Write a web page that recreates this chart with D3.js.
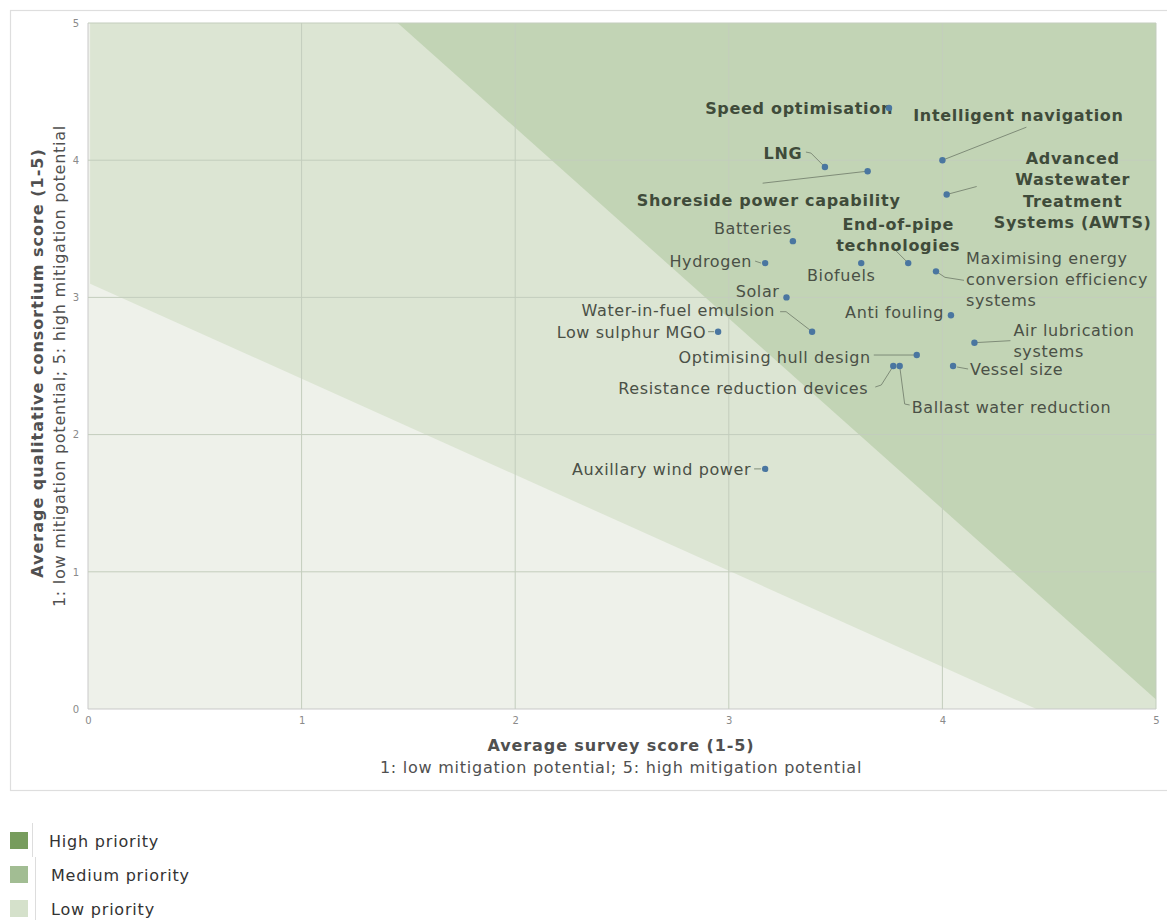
<!DOCTYPE html>
<html>
<head>
<meta charset="utf-8">
<script src="https://cdn.jsdelivr.net/npm/d3@7"></script>
<style>
  html, body { margin: 0; padding: 0; background: #fff; }
  svg { display: block; font-family: "DejaVu Sans", Verdana, sans-serif; }
</style>
</head>
<body>
<svg id="chart" width="1167" height="920"></svg>
<script>
// Measures and their scores: x = average survey score, y = average consortium score
const measures = [
  "Speed optimisation", "Intelligent navigation", "LNG", "Shoreside power capability",
  "Advanced Wastewater Treatment Systems (AWTS)", "Batteries", "Hydrogen", "Biofuels",
  "End-of-pipe technologies", "Maximising energy conversion efficiency systems", "Solar",
  "Water-in-fuel emulsion", "Low sulphur MGO", "Anti fouling", "Air lubrication systems",
  "Optimising hull design", "Resistance reduction devices", "Ballast water reduction",
  "Vessel size", "Auxillary wind power"
];
const surveyScores = [3.75, 4.00, 3.45, 3.65, 4.02, 3.30, 3.17, 3.62, 3.84, 3.97, 3.27,
                      3.39, 2.95, 4.04, 4.15, 3.88, 3.77, 3.80, 4.05, 3.17];
const consortiumScores = [4.38, 4.00, 3.95, 3.92, 3.75, 3.41, 3.25, 3.25, 3.25, 3.19, 3.00,
                          2.75, 2.75, 2.87, 2.67, 2.58, 2.50, 2.50, 2.50, 1.75];
const highlighted = ["Speed optimisation", "Intelligent navigation", "LNG",
                     "Shoreside power capability", "Advanced Wastewater Treatment Systems (AWTS)",
                     "End-of-pipe technologies"];

// Priority zones, as corner points in score space
const mediumZone = [[0.01, 5], [5, 5], [5, 0], [4.44, 0], [0.01, 3.1]];
const highZone = [[1.45, 5], [5, 5], [5, 0.07]];

const xTicks = [0, 1, 2, 3, 4, 5];
const yTicks = [0, 1, 2, 3, 4, 5];
const legendItems = ["High priority", "Medium priority", "Low priority"];

// Label placement (pixel offsets from each point), lines, leader paths
const labelLayout = {
  "Speed optimisation": { lines: ["Speed optimisation"], anchor: "end", dx: 4, dy: 0 },
  "Intelligent navigation": { lines: ["Intelligent navigation"], anchor: "middle", dx: 76, dy: -45,
    leader: [[0, 0], [84, -33]] },
  "LNG": { lines: ["LNG"], anchor: "middle", dx: -42, dy: -14,
    leader: [[-19, -15], [-14, -14], [0, 0]] },
  "Shoreside power capability": { lines: ["Shoreside power capability"], anchor: "middle", dx: -99, dy: 29,
    leader: [[-105, 12], [0, 0]] },
  "Advanced Wastewater Treatment Systems (AWTS)": {
    lines: ["Advanced", "Wastewater", "Treatment", "Systems (AWTS)"], anchor: "middle", dx: 126, dy: -36,
    leader: [[0, 0], [30, -8]] },
  "Batteries": { lines: ["Batteries"], anchor: "middle", dx: -40, dy: -13 },
  "Hydrogen": { lines: ["Hydrogen"], anchor: "end", dx: -13, dy: -2, leader: [[-10, -2], [-4, 0]] },
  "Biofuels": { lines: ["Biofuels"], anchor: "middle", dx: -20, dy: 12 },
  "End-of-pipe technologies": { lines: ["End-of-pipe", "technologies"], anchor: "middle", dx: -10, dy: -39,
    leader: [[-12, -12], [0, 0]] },
  "Maximising energy conversion efficiency systems": {
    lines: ["Maximising energy", "conversion efficiency", "systems"], anchor: "start", dx: 30, dy: -13,
    leader: [[0, 0], [9, 6], [28, 9]] },
  "Solar": { lines: ["Solar"], anchor: "end", dx: -7, dy: -6 },
  "Water-in-fuel emulsion": { lines: ["Water-in-fuel emulsion"], anchor: "end", dx: -37, dy: -21,
    leader: [[-32, -20], [-26, -20], [0, 0]] },
  "Low sulphur MGO": { lines: ["Low sulphur MGO"], anchor: "end", dx: -12, dy: 1, leader: [[-10, 0], [-4, 0]] },
  "Anti fouling": { lines: ["Anti fouling"], anchor: "end", dx: -7, dy: -3 },
  "Air lubrication systems": { lines: ["Air lubrication", "systems"], anchor: "start", dx: 39, dy: -12,
    leader: [[0, 0], [36, -2]] },
  "Optimising hull design": { lines: ["Optimising hull design"], anchor: "end", dx: -46, dy: 2,
    leader: [[-43, 0], [0, 0]] },
  "Resistance reduction devices": { lines: ["Resistance reduction devices"], anchor: "end", dx: -25, dy: 22,
    leader: [[0, 0], [-12, 19], [-18, 21]] },
  "Ballast water reduction": { lines: ["Ballast water reduction"], anchor: "start", dx: 12, dy: 41,
    leader: [[0, 0], [5, 38], [10, 39]] },
  "Vessel size": { lines: ["Vessel size"], anchor: "start", dx: 17, dy: 3, leader: [[4, 1], [15, 3]] },
  "Auxillary wind power": { lines: ["Auxillary wind power"], anchor: "end", dx: -14, dy: 0,
    leader: [[-11, 0], [-4, 0]] }
};

const svg = d3.select("#chart");
const x = d3.scaleLinear().domain([0, 5]).range([88, 1156]);
const y = d3.scaleLinear().domain([0, 5]).range([709, 23]);

// Outer frame around the plot
svg.append("rect")
  .attr("x", 10.5).attr("y", 10.5).attr("width", 1160).attr("height", 780)
  .attr("fill", "#fff").attr("stroke", "#dedede").attr("stroke-width", 1.2);

// Low priority background
svg.append("rect")
  .attr("x", x(0)).attr("y", y(5)).attr("width", x(5) - x(0)).attr("height", y(0) - y(5))
  .attr("fill", "#eef1ea");

const poly = d3.line().x(d => x(d[0])).y(d => y(d[1])).curve(d3.curveLinearClosed);
svg.append("path").attr("d", poly(mediumZone)).attr("fill", "#dce5d3");
svg.append("path").attr("d", poly(highZone)).attr("fill", "#c2d4b5");

// Grid lines
const grid = svg.append("g");
grid.selectAll("line.v").data(xTicks).join("line")
  .attr("x1", d => x(d)).attr("x2", d => x(d))
  .attr("y1", y(0)).attr("y2", y(5))
  .attr("stroke", d => d === 0 ? "#c9c9c9" : "#c3cdbd").attr("stroke-width", 1);
grid.selectAll("line.h").data(yTicks).join("line")
  .attr("x1", x(0)).attr("x2", x(5))
  .attr("y1", d => y(d)).attr("y2", d => y(d))
  .attr("stroke", d => d === 0 ? "#c9c9c9" : "#c3cdbd").attr("stroke-width", 1);

// Axes tick labels
const xAxis = d3.axisBottom(x).tickValues(xTicks).tickSize(0).tickPadding(8).tickFormat(d3.format("d"));
const gx = svg.append("g").attr("transform", `translate(0,${y(0)})`).call(xAxis);
gx.select(".domain").remove();
gx.selectAll("text").attr("fill", "#8a8a8a").style("font-size", "10px")
  .style("font-family", "'DejaVu Sans', Verdana, sans-serif");

const yAxis = d3.axisLeft(y).tickValues(yTicks).tickSize(0).tickPadding(9).tickFormat(d3.format("d"));
const gy = svg.append("g").attr("transform", `translate(${x(0)},0)`).call(yAxis);
gy.select(".domain").remove();
gy.selectAll("text").attr("fill", "#8a8a8a").style("font-size", "10px")
  .style("font-family", "'DejaVu Sans', Verdana, sans-serif");

// Axis titles
svg.append("text").attr("x", 621).attr("y", 751).attr("text-anchor", "middle")
  .attr("font-size", 16).attr("font-weight", "bold").attr("fill", "#505050")
  .attr("letter-spacing", 0.9)
  .text("Average survey score (1-5)");
svg.append("text").attr("x", 621).attr("y", 773).attr("text-anchor", "middle")
  .attr("font-size", 16).attr("fill", "#505050").attr("letter-spacing", 0.75)
  .text("1: low mitigation potential; 5: high mitigation potential");

svg.append("text").attr("transform", "translate(43,363) rotate(-90)").attr("text-anchor", "middle")
  .attr("font-size", 16).attr("font-weight", "bold").attr("fill", "#505050")
  .attr("letter-spacing", 1)
  .text("Average qualitative consortium score (1-5)");
svg.append("text").attr("transform", "translate(65,366) rotate(-90)").attr("text-anchor", "middle")
  .attr("font-size", 16).attr("fill", "#505050").attr("letter-spacing", 0.75)
  .text("1: low mitigation potential; 5: high mitigation potential");

// Points and labels
const points = measures.map((m, i) => ({ name: m, sx: surveyScores[i], cy: consortiumScores[i] }));
const leaderLine = d3.line();

const lblG = svg.append("g");
points.forEach(p => {
  const L = labelLayout[p.name];
  const px = x(p.sx), py = y(p.cy);
  if (L.leader) {
    lblG.append("path")
      .attr("d", leaderLine(L.leader.map(o => [px + o[0], py + o[1]])))
      .attr("fill", "none").attr("stroke", "#7f8c78").attr("stroke-width", 1);
  }
});
points.forEach(p => {
  const L = labelLayout[p.name];
  const px = x(p.sx), py = y(p.cy);
  const bold = highlighted.includes(p.name);
  const lh = bold ? 21.3 : 21;
  const t = lblG.append("text")
    .attr("text-anchor", L.anchor)
    .attr("font-size", 16)
    .attr("letter-spacing", bold ? 0.7 : 0.6)
    .attr("font-weight", bold ? "bold" : "normal")
    .attr("fill", bold ? "#3f4b3a" : "#4a5046");
  L.lines.forEach((ln, k) => {
    t.append("tspan").attr("x", px + L.dx).attr("y", py + L.dy + k * lh)
      .attr("dy", "0.35em").text(ln);
  });
});

svg.append("g").selectAll("circle").data(points).join("circle")
  .attr("cx", d => x(d.sx)).attr("cy", d => y(d.cy)).attr("r", 3.2)
  .attr("fill", "#4a76a0");

// Legend
const legendColors = ["#779c5d", "#a2bd93", "#d5e1cb"];
const lg = svg.append("g");
lg.append("path").attr("d", "M32.5,823V857M35.5,857V920").attr("stroke", "#dddddd").attr("fill", "none");
legendItems.forEach((name, i) => {
  lg.append("rect").attr("x", 10).attr("y", 832 + i * 34).attr("width", 18).attr("height", 17)
    .attr("fill", legendColors[i]);
  lg.append("text").attr("x", i === 0 ? 49 : 51).attr("y", 841 + i * 34).attr("dy", "0.35em")
    .attr("font-size", 16).attr("letter-spacing", 0.8).attr("fill", "#333").text(name);
});
</script>
</body>
</html>
